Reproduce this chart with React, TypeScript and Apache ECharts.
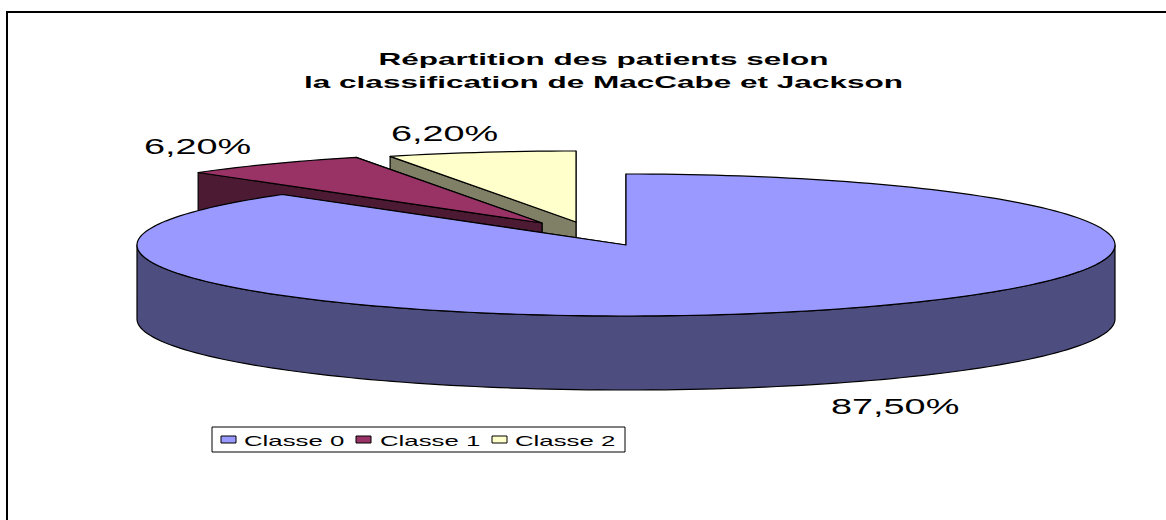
import React, { useEffect, useRef } from "react";
import * as echarts from "echarts";

const categories = ["Classe 0", "Classe 1", "Classe 2"];
const percentages = [87.5, 6.2, 6.2];
const chartTitleLines = ["Répartition des patients selon", "la classification de MacCabe et Jackson"];

const topColors = ["#9999FF", "#993366", "#FFFFCC"];
const sideColors = ["#4D4D80", "#4D1A33", "#808066"];

const FONT = '"Liberation Sans", Arial, sans-serif';
const CX = 626, CY = 245, RX = 489, RY = 71, DEPTH = 74;
const explode = [[0, 0], [-84, -22], [-50, -23]];
const labelPos = [[831, 396], [144, 136], [391, 123]];
const legendSwatchX = [221, 356, 492];
const legendTextX = [244, 380, 515];

const rad = (d: number) => (d * Math.PI) / 180;
const total = percentages.reduce((a, b) => a + b, 0);

function rimPoint(i: number, deg: number, drop = 0): number[] {
  return [
    CX + explode[i][0] + RX * Math.sin(rad(deg)),
    CY + explode[i][1] - RY * Math.cos(rad(deg)) + drop,
  ];
}
function arcPoints(i: number, a: number, b: number, drop = 0): number[][] {
  const n = Math.max(2, Math.ceil(Math.abs(b - a) / 1.5));
  const pts: number[][] = [];
  for (let k = 0; k <= n; k++) pts.push(rimPoint(i, a + ((b - a) * k) / n, drop));
  return pts;
}

function renderSlice(params: any, api: any) {
  const i = params.dataIndex;
  const value = api.value(0);
  let before = 0;
  for (let k = 0; k < i; k++) before += percentages[k];
  const a0 = (before / total) * 360;
  const a1 = ((before + value) / total) * 360;
  const apex = [CX + explode[i][0], CY + explode[i][1]];
  const line = { stroke: "#000", lineWidth: 1.2, lineJoin: "round" };
  const base = (3 - i) * 10;
  const children: any[] = [];
  // cut faces: the far one first, the near one over it
  [a1, a0].forEach((a, n) => {
    const r = rimPoint(i, a);
    children.push({
      type: "polygon",
      z2: base + n,
      shape: { points: [r, apex, [apex[0], apex[1] + DEPTH], [r[0], r[1] + DEPTH]] },
      style: { fill: sideColors[i], ...line },
    });
  });
  // outer wall (visible half of the rim only)
  const w0 = Math.max(a0, 90);
  const w1 = Math.min(a1, 270);
  if (w1 > w0) {
    children.push({
      type: "polygon",
      z2: base + 2,
      shape: { points: [...arcPoints(i, w0, w1), ...arcPoints(i, w1, w0, DEPTH)] },
      style: { fill: sideColors[i], ...line },
    });
  }
  // top face
  children.push({
    type: "polygon",
    z2: base + 3,
    shape: { points: [apex, ...arcPoints(i, a0, a1)] },
    style: { fill: topColors[i], ...line },
  });
  // data label
  children.push({
    type: "text",
    z2: 100,
    x: labelPos[i][0],
    y: labelPos[i][1],
    scaleX: 1.72,
    style: {
      text: value.toFixed(2).replace(".", ",") + "%",
      font: `22px ${FONT}`,
      fill: "#000",
      textAlign: "left",
      textVerticalAlign: "top",
    },
  });
  return { type: "group", children };
}

export default function App() {
  const ref = useRef<HTMLDivElement>(null);
  useEffect(() => {
    const chart = echarts.init(ref.current!, null, { renderer: "svg" });
    const graphics: any[] = [
      {
        type: "polyline",
        shape: { points: [[7, 520], [7, 12], [1166, 12]] },
        style: { stroke: "#000", lineWidth: 2, fill: "none" },
      },
      {
        type: "rect",
        shape: { x: 212, y: 427, width: 413, height: 25 },
        style: { fill: "#fff", stroke: "#000", lineWidth: 1 },
      },
    ];
    chartTitleLines.forEach((t, k) => {
      graphics.push({
        type: "text",
        x: 603.5,
        y: 51 + k * 23,
        scaleX: 1.97,
        style: { text: t, font: `bold 16px ${FONT}`, fill: "#000", textAlign: "center" },
      });
    });
    categories.forEach((c, k) => {
      graphics.push({
        type: "rect",
        shape: { x: legendSwatchX[k], y: 436, width: 15, height: 7 },
        style: { fill: topColors[k], stroke: "#000", lineWidth: 1 },
      });
      graphics.push({
        type: "text",
        x: legendTextX[k],
        y: 433,
        scaleX: 1.72,
        style: { text: c, font: `15px ${FONT}`, fill: "#000", textAlign: "left" },
      });
    });
    chart.setOption({
      animation: false,
      backgroundColor: "#fff",
      graphic: graphics,
      series: [
        {
          type: "custom",
          coordinateSystem: "none",
          renderItem: renderSlice,
          data: percentages.map((v, i) => ({ name: categories[i], value: [v] })),
        },
      ],
    });
    return () => chart.dispose();
  }, []);
  return <div ref={ref} style={{ position: "absolute", left: 0, top: 0, width: 1166, height: 520 }} />;
}
